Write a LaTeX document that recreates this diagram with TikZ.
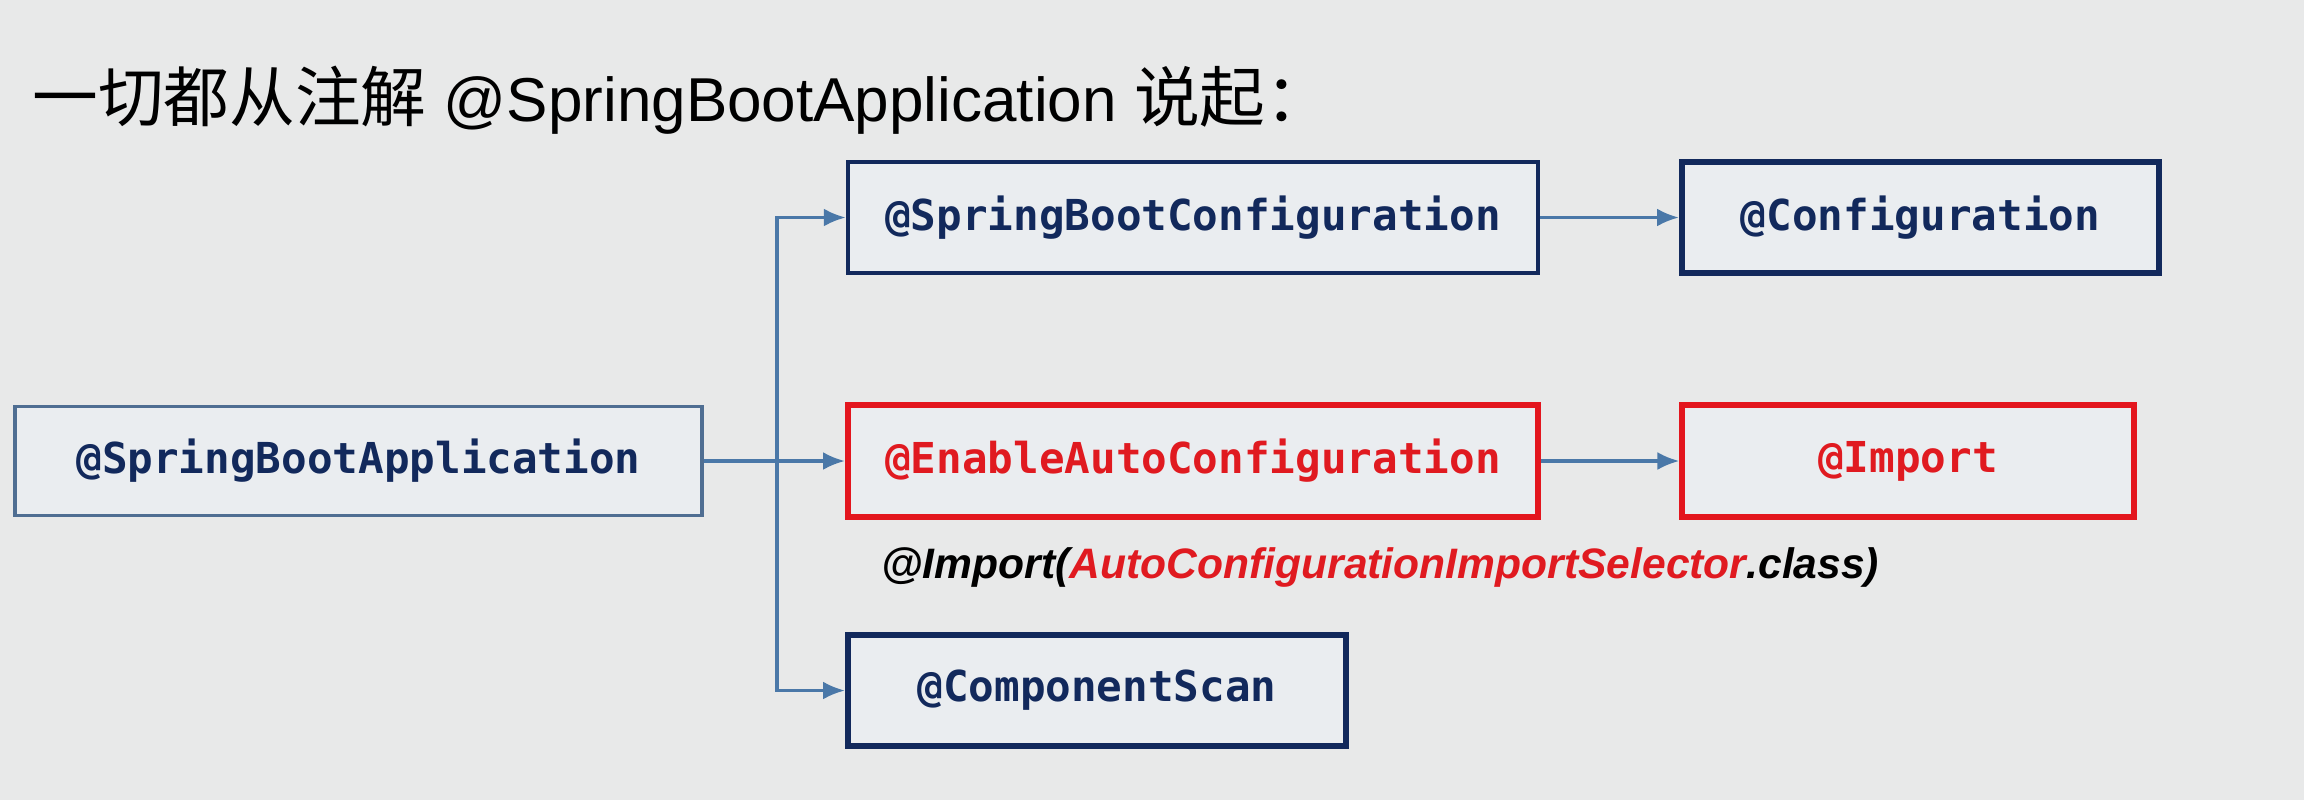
\documentclass[tikz,border=0pt]{standalone}
\usepackage{fontspec}
\setmainfont{Liberation Sans}
\setmonofont{DejaVu Sans Mono}
\newfontfamily\cjk{Noto Sans CJK SC}[Scale=1.06]
\usetikzlibrary{arrows.meta}
\definecolor{bgc}{HTML}{E8E9E9}
\definecolor{boxfill}{HTML}{EAEDF0}
\definecolor{navy}{HTML}{12295C}
\definecolor{steel}{HTML}{4F6E92}
\definecolor{arrowc}{HTML}{4A78A8}
\definecolor{redc}{HTML}{E3161E}
\definecolor{redtext}{HTML}{E01A20}
\tikzset{
  box/.style={draw, fill=boxfill, rectangle, inner sep=0pt, font=\fontsize{21.3}{24}\selectfont\ttfamily\bfseries},
  navybox/.style={box, draw=navy, text=navy, line width=2.6pt},
  redbox/.style={box, draw=redc, text=redtext, line width=3pt},
  conn/.style={draw=arrowc, line width=1.7pt, -{Latex[length=11pt,width=9pt]}},
}
\begin{document}
\begin{tikzpicture}[x=0.5pt,y=-0.5pt]
\fill[bgc] (0,0) rectangle (2304,800);
\useasboundingbox (0,0) rectangle (2304,800);

\node[anchor=base west, inner sep=0pt, font=\fontsize{31}{36}\selectfont] (title) at (32,121)
  {{\cjk 一切都从注解} @SpringBootApplication {\cjk 说起：}};

\node[box, draw=steel, text=navy, line width=1.6pt, minimum width=343.5pt, minimum height=54.5pt] (sba) at (358.5,461) {@SpringBootApplication};
\node[navybox, line width=2.2pt, minimum width=345pt, minimum height=55.5pt] (sbc) at (1193,217.5) {@SpringBootConfiguration};
\node[navybox, line width=3pt, minimum width=238.5pt, minimum height=55.5pt] (cfg) at (1920.5,217.5) {@Configuration};
\node[redbox, minimum width=345pt, minimum height=56pt] (eac) at (1193,461) {@EnableAutoConfiguration};
\node[redbox, line width=2.6pt, minimum width=226pt, minimum height=56pt] (imp) at (1908,461) {@Import};
\node[navybox, line width=3pt, minimum width=249pt, minimum height=55.5pt] (cs) at (1097,690.5) {@ComponentScan};

\node[anchor=base west, inner sep=0pt, font=\fontsize{21.3}{24}\selectfont\bfseries\itshape] (lbl) at (881,578)
  {@Import(\textcolor{redtext}{AutoConfigurationImportSelector}.class)};

\coordinate (j) at (777,461);
\draw[conn] (sba.east) -- (eac.west);
\draw[conn] (j) |- (sbc.west);
\draw[conn] (j) |- (cs.west);
\draw[conn] (sbc.east) -- (cfg.west);
\draw[conn] (eac.east) -- (imp.west);
\end{tikzpicture}
\end{document}
